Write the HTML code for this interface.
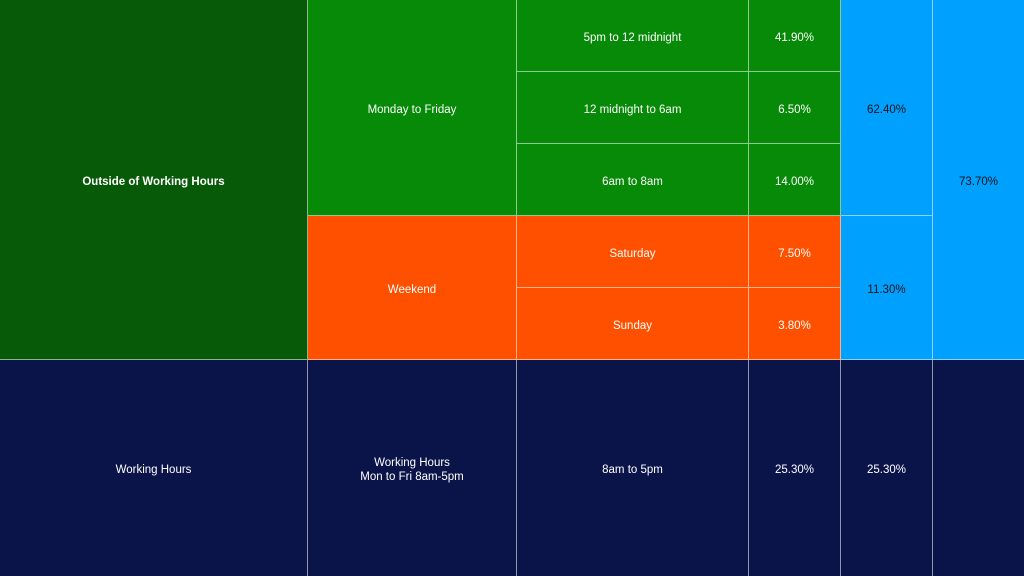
<!DOCTYPE html>
<html><head><style>
body{margin:0;width:1024px;height:576px;overflow:hidden;background:#0a1449;font-family:"Liberation Sans",sans-serif;}
.c{position:absolute;box-sizing:border-box;padding-top:4px;border-right:1px solid rgba(255,255,255,0.55);border-bottom:1px solid rgba(255,255,255,0.55);display:flex;align-items:center;justify-content:center;text-align:center;font-size:11.5px;color:#fff;line-height:14px}
.dg{background:#075a07}.g{background:#078a07}.o{background:#ff5000}.b{background:#00a0ff;color:#111}.n{background:#0a1449}
</style></head><body>
<div class="c dg" style="left:0;top:0;width:308px;height:360px;font-weight:bold">Outside of Working Hours</div>
<div class="c g" style="left:308px;top:0;width:209px;height:216px">Monday to Friday</div>
<div class="c o" style="left:308px;top:216px;width:209px;height:144px">Weekend</div>
<div class="c g" style="left:517px;top:0;width:232px;height:72px">5pm to 12 midnight</div>
<div class="c g" style="left:517px;top:72px;width:232px;height:72px">12 midnight to 6am</div>
<div class="c g" style="left:517px;top:144px;width:232px;height:72px">6am to 8am</div>
<div class="c o" style="left:517px;top:216px;width:232px;height:72px">Saturday</div>
<div class="c o" style="left:517px;top:288px;width:232px;height:72px">Sunday</div>
<div class="c g" style="left:749px;top:0;width:92px;height:72px">41.90%</div>
<div class="c g" style="left:749px;top:72px;width:92px;height:72px">6.50%</div>
<div class="c g" style="left:749px;top:144px;width:92px;height:72px">14.00%</div>
<div class="c o" style="left:749px;top:216px;width:92px;height:72px">7.50%</div>
<div class="c o" style="left:749px;top:288px;width:92px;height:72px">3.80%</div>
<div class="c b" style="left:841px;top:0;width:92px;height:216px">62.40%</div>
<div class="c b" style="left:841px;top:216px;width:92px;height:144px">11.30%</div>
<div class="c b" style="left:933px;top:0;width:91px;height:360px;border-right:none">73.70%</div>
<div class="c n" style="left:0;top:360px;width:308px;height:216px;border-bottom:none">Working Hours</div>
<div class="c n" style="left:308px;top:360px;width:209px;height:216px;border-bottom:none">Working Hours<br>Mon to Fri 8am-5pm</div>
<div class="c n" style="left:517px;top:360px;width:232px;height:216px;border-bottom:none">8am to 5pm</div>
<div class="c n" style="left:749px;top:360px;width:92px;height:216px;border-bottom:none">25.30%</div>
<div class="c n" style="left:841px;top:360px;width:92px;height:216px;border-bottom:none">25.30%</div>
<div class="c n" style="left:933px;top:360px;width:91px;height:216px;border-right:none;border-bottom:none"></div>
</body></html>
